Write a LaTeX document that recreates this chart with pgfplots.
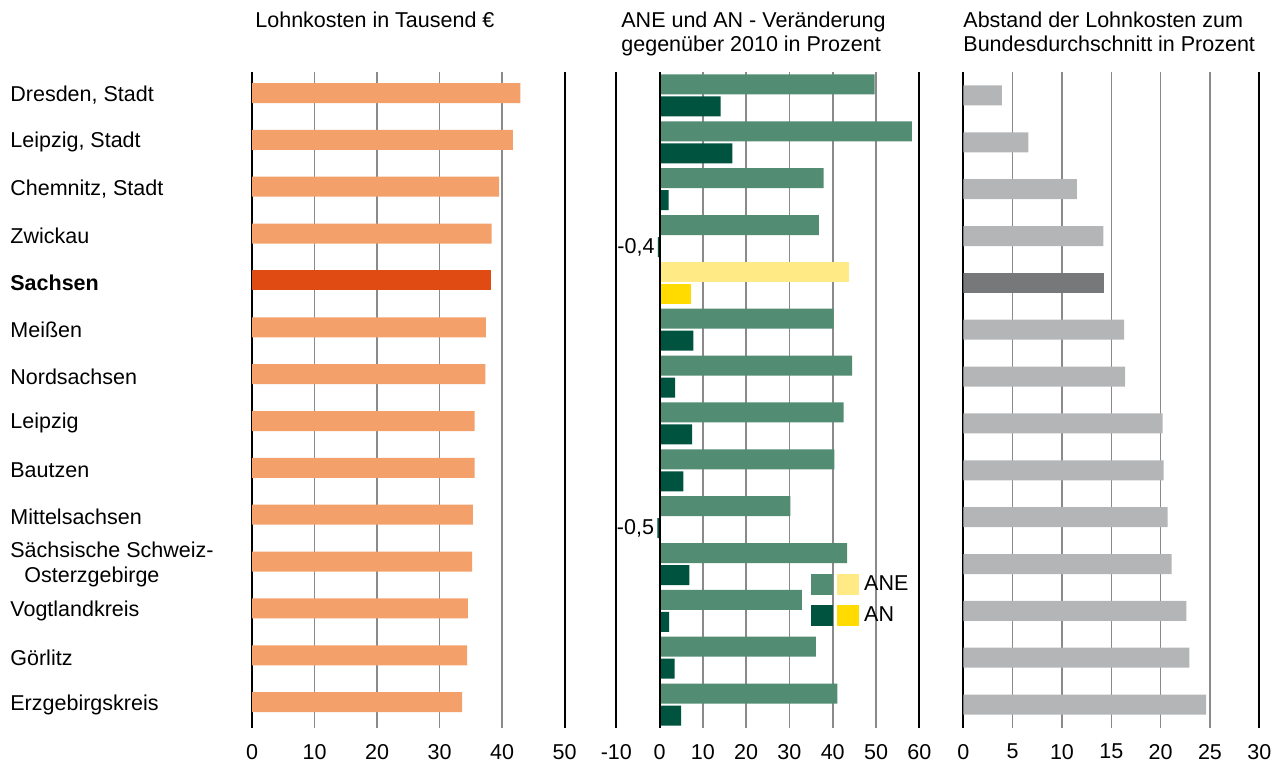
\documentclass[border=0pt]{standalone}
\usepackage{fontspec}
\setmainfont{Liberation Sans}
\usepackage{pgfplots}
\usepackage{pgfplotstable}
\pgfplotsset{compat=1.18}

\definecolor{orl}{HTML}{F4A06B}
\definecolor{ord}{HTML}{E04B14}
\definecolor{ane}{HTML}{528C72}
\definecolor{andk}{HTML}{00543F}
\definecolor{aney}{HTML}{FFEA85}
\definecolor{any}{HTML}{FFDB00}
\definecolor{grl}{HTML}{B4B5B7}
\definecolor{grd}{HTML}{77787A}
\definecolor{gridc}{HTML}{8A8A8A}

\newcommand{\fsz}{\fontsize{10.75}{12.5}\selectfont}

% r = row (0 = Dresden, 4 = Sachsen, 13 = Erzgebirgskreis)
\pgfplotstableread{
r  lohn  ane   an    abst
0  42.9  49.7  14.1  3.9
1  41.7  58.3  16.8  6.6
2  39.5  37.9  2.1   11.5
5  37.4  40.2  7.8   16.3
6  37.3  44.5  3.6   16.4
7  35.6  42.5  7.5   20.2
8  35.6  40.4  5.5   20.3
10 35.2  43.3  6.9   21.1
11 34.5  32.9  2.2   22.6
12 34.4  36.1  3.5   22.9
13 33.6  41.1  5.0   24.6
}\kreise
% rows with a negative AN value
\pgfplotstableread{
r  lohn  ane   abst
3  38.3  36.8  14.2
9  35.3  30.2  20.7
}\kreiseneg
\pgfplotstableread{
r  an    l
3  -0.4  -0,4
9  -0.5  -0,5
}\anneg
\pgfplotstableread{
r  lohn  ane   an   abst
4  38.2  43.7  7.3  14.3
}\sachsen

\pgfplotsset{
  panel/.style={
    scale only axis, anchor=south west, height=328pt,
    ymin=-0.5, ymax=13.5, y dir=reverse,
    ytick=\empty,
    separate axis lines,
    x axis line style={draw=none},
    y axis line style={black, line width=1pt},
    xmajorgrids, major grid style={draw=gridc, line width=0.8pt},
    major tick length=0pt,
    tick label style={font=\fsz},
    xticklabel style={yshift=-4.5pt},
    /pgf/number format/assume math mode=true,
    xbar, bar width=10pt,
  },
}

\begin{document}
\begin{tikzpicture}[font=\fsz]
\useasboundingbox (0,0) rectangle (642pt,382.5pt);

% titles
\node[anchor=base west, inner sep=0pt] at (127.5pt,368.75pt) {Lohnkosten in Tausend €};
\node[anchor=base west, inner sep=0pt] at (310.5pt,368.75pt) {ANE und AN - Veränderung};
\node[anchor=base west, inner sep=0pt] at (310.5pt,356.75pt) {gegenüber 2010 in Prozent};
\node[anchor=base west, inner sep=0pt] at (481.5pt,368.75pt) {Abstand der Lohnkosten zum};
\node[anchor=base west, inner sep=0pt] at (481.5pt,356.75pt) {Bundesdurchschnitt in Prozent};

% panel 1: Lohnkosten
\begin{axis}[panel, at={(126pt,18.5pt)}, width=156.35pt,
  xmin=0, xmax=50, xtick={0,10,...,50},
  ytick={0,...,13},
  yticklabels={{Dresden, Stadt},{Leipzig, Stadt},{Chemnitz, Stadt},Zwickau,
    \textbf{Sachsen},Meißen,Nordsachsen,Leipzig,Bautzen,Mittelsachsen,
    {Sächsische Schweiz-\\\hspace*{7pt}Osterzgebirge},Vogtlandkreis,Görlitz,Erzgebirgskreis},
  yticklabel style={anchor=west, xshift=-121pt, inner sep=0pt, align=left},
]
\addplot[fill=orl, draw=none, bar shift=1.2pt] table[x=lohn, y=r] \kreise;
\addplot[fill=orl, draw=none, bar shift=1.2pt] table[x=lohn, y=r] \kreiseneg;
\addplot[fill=ord, draw=none, bar shift=1.2pt] table[x=lohn, y=r] \sachsen;
\end{axis}

% panel 2: ANE und AN
\begin{axis}[panel, at={(308.15pt,18.5pt)}, width=151.5pt,
  xmin=-10, xmax=60, xtick={-10,0,...,60},
  xticklabels={-10,0,10,20,30,40,50,60},
  legend style={at={(0.6426,0.2352)}, anchor=north west, draw=none, fill=none,
    inner sep=0pt, row sep=5pt, column sep=2.5pt, nodes={inner sep=0pt}, font=\fsz},
  legend cell align=left,
]
\addplot[fill=ane, draw=none, bar shift=5.5pt, forget plot] table[x=ane, y=r] \kreise;
\addplot[fill=ane, draw=none, bar shift=5.5pt, forget plot] table[x=ane, y=r] \kreiseneg;
\addplot[fill=aney, draw=none, bar shift=5.5pt, forget plot] table[x=ane, y=r] \sachsen;
\addplot[fill=andk, draw=none, bar shift=-5.5pt, forget plot] table[x=an, y=r] \kreise;
\addplot[fill=any, draw=none, bar shift=-5.5pt, forget plot] table[x=an, y=r] \sachsen;
\addplot[fill=andk, draw=none, bar shift=-5.5pt, forget plot,
  nodes near coords, point meta=explicit symbolic,
  nodes near coords style={anchor=east, inner sep=1.5pt, font=\fsz}]
  table[x=an, y=r, meta=l] \anneg;
\draw[black, line width=1pt] (axis cs:0,-0.5) -- (axis cs:0,13.5);
\addlegendimage{legend image code/.code={
  \fill[ane] (0pt,-5pt) rectangle (10.5pt,5pt);
  \fill[aney] (13pt,-5pt) rectangle (23.5pt,5pt);}}
\addlegendentry{ANE}
\addlegendimage{legend image code/.code={
  \fill[andk] (0pt,-5pt) rectangle (10.5pt,5pt);
  \fill[any] (13pt,-5pt) rectangle (23.5pt,5pt);}}
\addlegendentry{AN}
\end{axis}

% panel 3: Abstand zum Bundesdurchschnitt
\begin{axis}[panel, at={(481.65pt,18.5pt)}, width=148pt,
  xmin=0, xmax=30, xtick={0,5,...,30},
]
\addplot[fill=grl, draw=none, bar shift=0pt] table[x=abst, y=r] \kreise;
\addplot[fill=grl, draw=none, bar shift=0pt] table[x=abst, y=r] \kreiseneg;
\addplot[fill=grd, draw=none, bar shift=0pt] table[x=abst, y=r] \sachsen;
\end{axis}
\end{tikzpicture}
\end{document}
